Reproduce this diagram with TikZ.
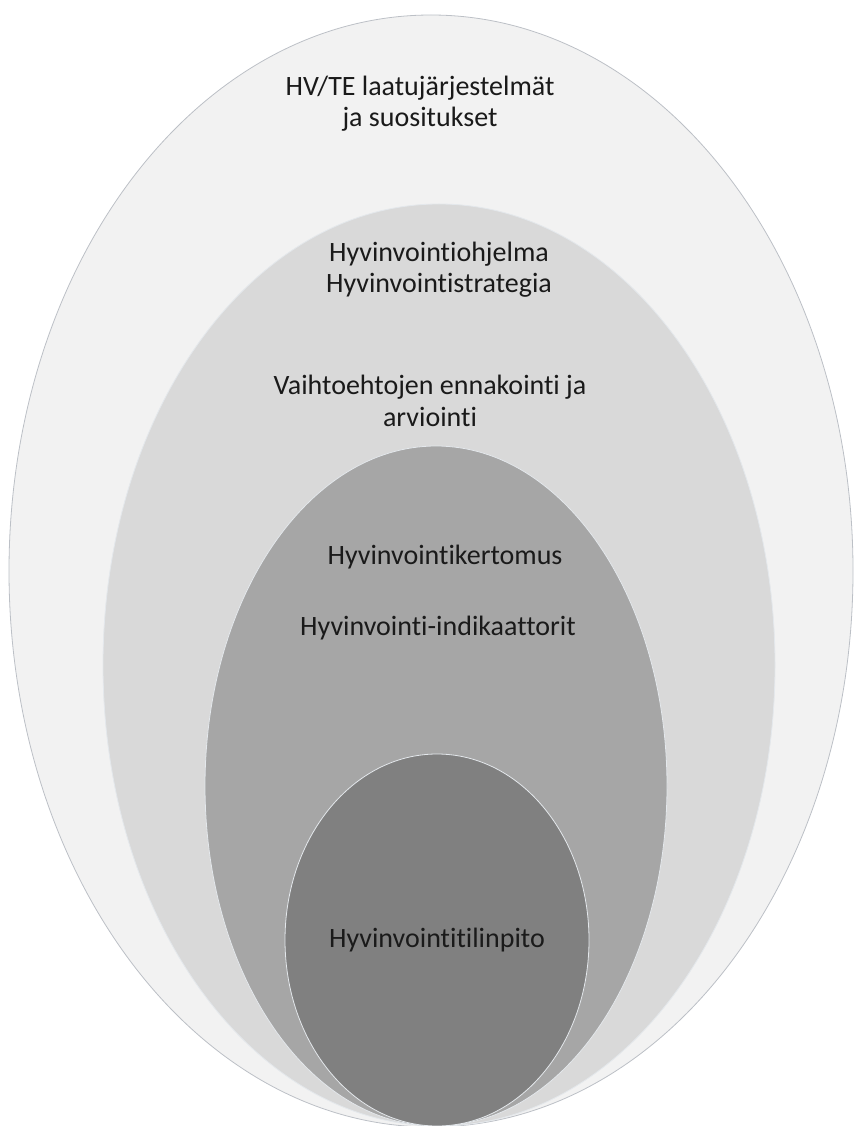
\documentclass[tikz,border=0pt]{standalone}
\usepackage{fontspec}
\setmainfont{Carlito}[Ligatures=NoCommon]
\definecolor{ringA}{HTML}{F2F2F2}
\definecolor{ringB}{HTML}{D9D9D9}
\definecolor{ringC}{HTML}{A6A6A6}
\definecolor{ringD}{HTML}{808080}
\definecolor{ringline}{HTML}{BCC0C6}
\definecolor{innerline}{HTML}{E4E8EC}
\definecolor{labeltext}{HTML}{1A1A1A}
\begin{document}
\begin{tikzpicture}[x=0.75pt,y=-0.75pt]
\useasboundingbox (0,0) rectangle (855,1126);
\foreach \cx/\cy/\rx/\ry/\c/\l in {431/571/422/556/ringA/ringline,439/665/336/461/ringB/innerline,436/786/231/340/ringC/innerline,437/940/152/186/ringD/innerline}{
    \draw[draw=\l, line width=.6pt, fill=\c] (\cx,\cy) ellipse [x radius=\rx, y radius=\ry];
}
\fontsize{21}{23.5}\selectfont
\tikzset{lbl/.style={align=center, inner sep=0pt, text=labeltext}}
\node[lbl] (hvte) at (420,104){HV/TE laatujärjestelmät\\ja suositukset};
\node[lbl] (ohjelma) at (439,270){Hyvinvointiohjelma\\Hyvinvointistrategia};
\node[lbl] (ennakointi) at (430,401){Vaihtoehtojen ennakointi ja\\arviointi};
\node[lbl] (kertomus) at (445,557){Hyvinvointikertomus};
\node[lbl] (indikaattorit) at (438,628){Hyvinvointi-indikaattorit};
\node[lbl] (tilinpito) at (437,940){Hyvinvointitilinpito};
\end{tikzpicture}
\end{document}
